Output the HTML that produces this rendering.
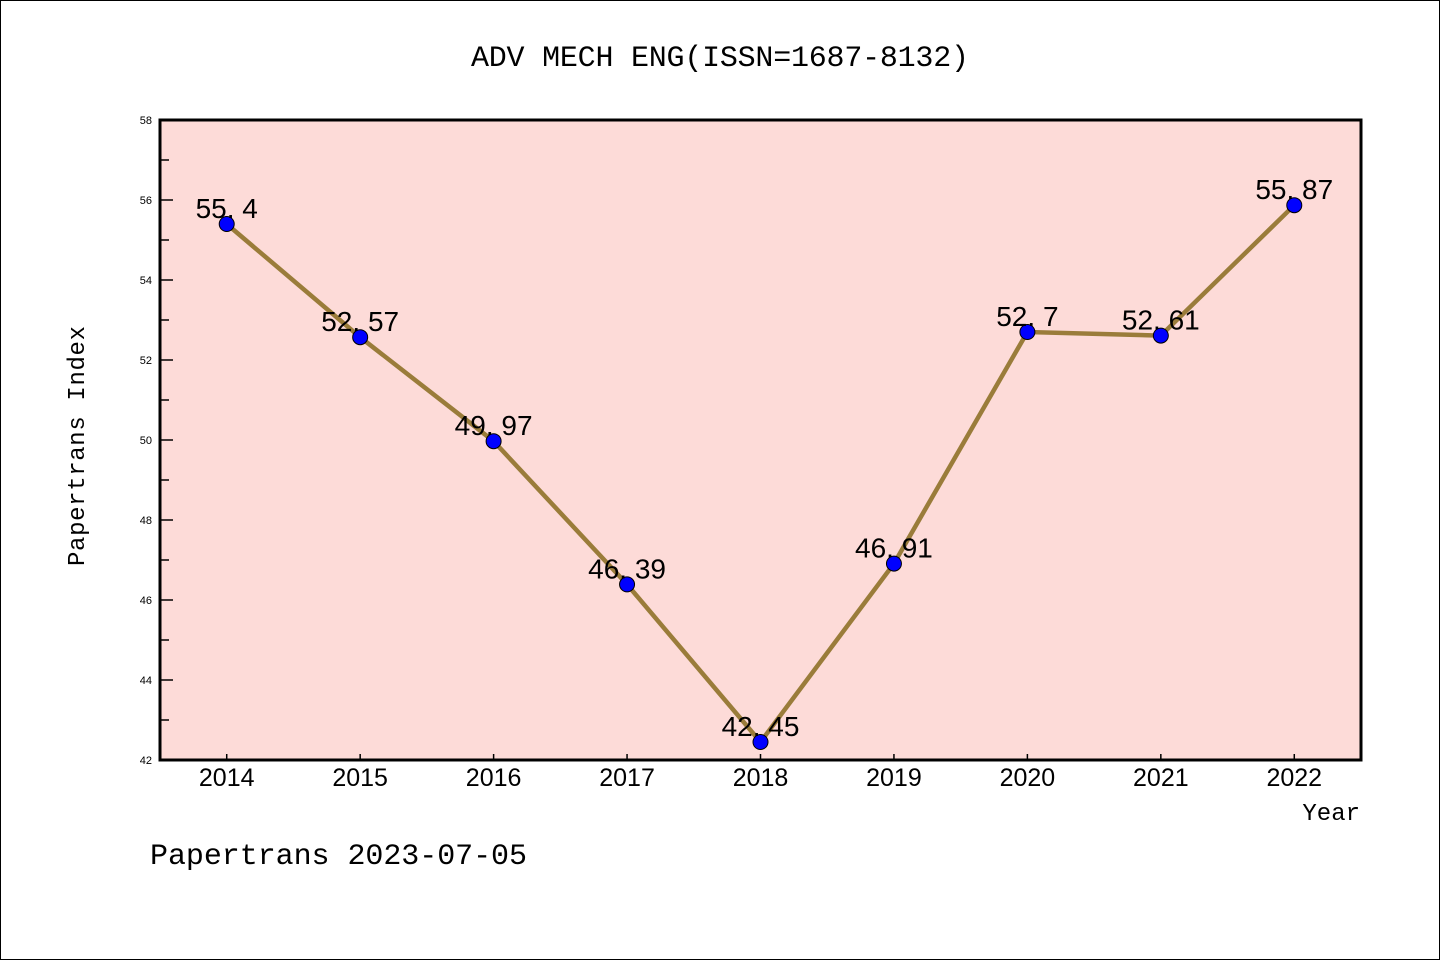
<!DOCTYPE html>
<html><head><meta charset="utf-8"><style>
html,body{margin:0;padding:0;background:#fff}
svg{display:block}
text{font-family:"Liberation Mono",monospace;fill:#000}
.sans{font-family:"Liberation Sans",sans-serif}
</style></head><body>
<svg id="chart" width="1440" height="960">
<rect x="0.5" y="0.5" width="1439" height="959" fill="#fff" stroke="#000" stroke-width="1"/>
<text x="720" y="66" font-size="30" text-anchor="middle" textLength="498">ADV MECH ENG(ISSN=1687-8132)</text>
<rect x="160" y="120" width="1201" height="640" fill="#fddbd8"/>
<g id="ticks"></g>
<g id="series"></g>
<rect x="160" y="120" width="1201" height="640" fill="none" stroke="#000" stroke-width="3"/>
<text x="0" y="0" font-size="24" text-anchor="middle" transform="translate(84,446) rotate(-90)" textLength="240">Papertrans Index</text>
<text x="1360" y="820" font-size="24" text-anchor="end">Year</text>
<text x="150" y="864" font-size="30" textLength="377">Papertrans 2023-07-05</text>
</svg>
<script>
const years = [2014,2015,2016,2017,2018,2019,2020,2021,2022];
const values = [55.4,52.57,49.97,46.39,42.45,46.91,52.7,52.61,55.87];
const valueLabels = ["55.4","52.57","49.97","46.39","42.45","46.91","52.7","52.61","55.87"];
const yTicks = [42,44,46,48,50,52,54,56,58];
const NS="http://www.w3.org/2000/svg";
const X0=160,X1=1361,Y0=760,Y1=120;
const xs=v=>X0+(v-2013.5)/(9)*(X1-X0);
const ys=v=>Y0-(v-42)/(16)*(Y0-Y1);
function mk(tag,attrs,parent){const e=document.createElementNS(NS,tag);for(const k in attrs)e.setAttribute(k,attrs[k]);parent.appendChild(e);return e;}
const tg=document.getElementById('ticks');
yTicks.forEach(t=>{
  const y=ys(t);
  const l=mk('line',{x1:X0,x2:X0+13,y1:y,y2:y,stroke:'#000','stroke-width':1.5},tg);
  
  
  const tx=mk('text',{x:X0-8,y:y+4,'font-size':11,'text-anchor':'end',class:'sans'},tg);
  tx.textContent=t;
  
  
  if(t<58){const ym=ys(t+1);
    const m=mk('line',{x1:X0,x2:X0+9,y1:ym,y2:ym,stroke:'#000','stroke-width':1.5},tg);
    
    }
});
years.forEach(yr=>{
  const x=xs(yr);
  const l=mk('line',{x1:x,x2:x,y1:Y0,y2:Y0-6,stroke:'#000','stroke-width':1.5},tg);
  
  
  const tx=mk('text',{x:x,y:Y0+26,'font-size':25,'text-anchor':'middle',class:'sans'},tg);
  tx.textContent=yr;
  
  
});
const sg=document.getElementById('series');
const pts=years.map((y,i)=>xs(y)+','+ys(values[i])).join(' ');
const pl=mk('polyline',{points:pts,fill:'none',stroke:'#9a7c3a','stroke-width':4.5},sg);


years.forEach((yr,i)=>{
  const c=mk('circle',{cx:xs(yr),cy:ys(values[i]),r:7.5,fill:'#0000ff',stroke:'#000','stroke-width':1},sg);
  
  
});
years.forEach((yr,i)=>{
  const t=mk('text',{x:xs(yr),y:ys(values[i])-6,'font-size':28,'text-anchor':'middle',class:'sans','word-spacing':'0'},sg);
  t.textContent=valueLabels[i].replace('.','. ');
  
  
});
</script>
</body></html>
